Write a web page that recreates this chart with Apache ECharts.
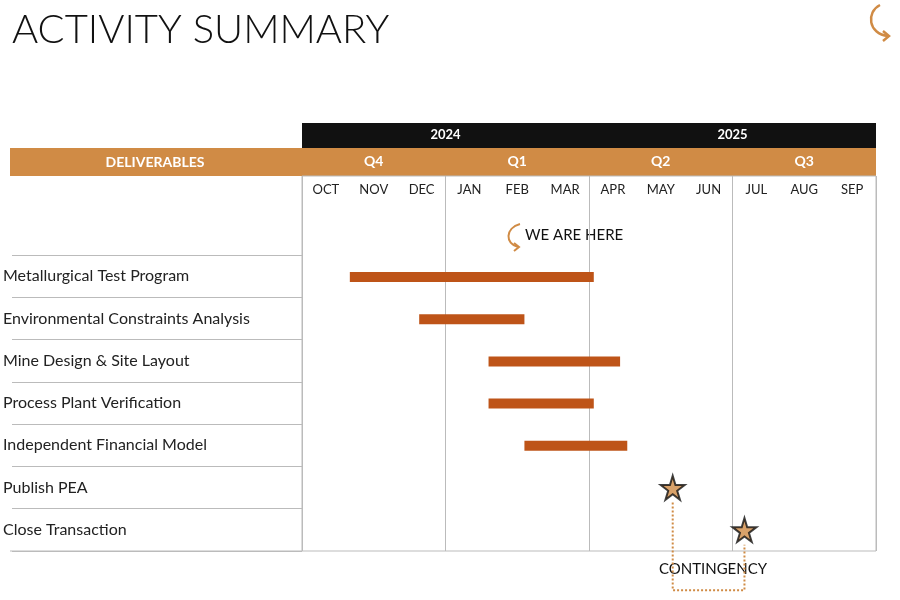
<!DOCTYPE html>
<html><head><meta charset="utf-8">
<script src="https://cdn.jsdelivr.net/npm/echarts@6/dist/echarts.min.js"></script>
<style>html,body{margin:0;background:#fff}#c{width:900px;height:600px}</style></head>
<body><div id="c"></div>
<script>
const tasks = ['Metallurgical Test Program','Environmental Constraints Analysis','Mine Design & Site Layout','Process Plant Verification','Independent Financial Model','Publish PEA','Close Transaction'];
const months = ['OCT','NOV','DEC','JAN','FEB','MAR','APR','MAY','JUN','JUL','AUG','SEP'];
const quarters = ['Q4','Q1','Q2','Q3'];
const years = ['2024','2025'];
// bars: [taskIndex, startMonth, endMonth] (0 = start of Oct 2024)
const bars = [[0,1.0,6.1],[1,2.45,4.65],[2,3.9,6.65],[3,3.9,6.1],[4,4.65,6.8]];
// milestones: [month, taskIndex]
const milestones = [[7.75,5],[9.25,6]];
const contingency = [[7.75,5.85],[7.75,7.93],[9.25,7.93],[9.25,6.85]];
const ORANGE='#D08B45', BAR='#BE5418';
const star='path://M50,0 L61,35 L98,35 L68,57 L79,91 L50,70 L21,91 L32,57 L2,35 L39,35 Z';
const chart = echarts.init(document.getElementById('c'));
const F='Lato';
chart.setOption({
  animation:false,
  textStyle:{fontFamily:F},
  graphic:[
    {type:'text',x:12,y:10,style:{text:'ACTIVITY SUMMARY',font:'300 40px Lato',fill:'#111'}},
    {type:'rect',shape:{x:302,y:123,width:574,height:25},style:{fill:'#111'},z:-1},
    {type:'rect',shape:{x:10,y:148,width:866,height:28},style:{fill:ORANGE},z:-1},
    {type:'text',x:155,y:162,style:{text:'DELIVERABLES',font:'bold 14px Lato',fill:'#fff',align:'center',verticalAlign:'middle'}},
    {type:'line',shape:{x1:10,y1:551,x2:302,y2:551},style:{stroke:'#bbb',lineWidth:1}},
    {type:'text',x:525,y:235,style:{text:'WE ARE HERE',font:'15px Lato',fill:'#111',verticalAlign:'middle'}},
    {type:'bezierCurve',shape:{x1:520,y1:224,cpx1:505,cpy1:228,cpx2:505,cpy2:244,x2:518,y2:247},style:{stroke:ORANGE,lineWidth:2,fill:null}},
    {type:'polyline',shape:{points:[[514,243],[519,247],[514,251]]},style:{stroke:ORANGE,lineWidth:2,fill:null}},
    {type:'bezierCurve',shape:{x1:880,y1:5,cpx1:866,cpy1:12,cpx2:868,cpy2:34,x2:888,y2:36},style:{stroke:ORANGE,lineWidth:2.5,fill:null}},
    {type:'polyline',shape:{points:[[883,31],[889,36],[883,41]]},style:{stroke:ORANGE,lineWidth:2.5,fill:null}},
    {type:'text',x:713,y:569,style:{text:'CONTINGENCY',font:'15px Lato',fill:'#111',align:'center',verticalAlign:'middle'}}
  ],
  grid:[
    {left:302,right:24,top:176,bottom:49,show:true,borderColor:'#bbb',borderWidth:1},
    {left:10,width:292,top:255,bottom:49}
  ],
  xAxis:[
    {gridIndex:0,type:'value',min:0,max:12,interval:3,axisLabel:{show:false},axisLine:{show:false},axisTick:{show:false},splitLine:{lineStyle:{color:'#bbb'}}},
    {gridIndex:0,type:'category',position:'top',data:months,axisLine:{show:false},axisTick:{show:false},axisLabel:{color:'#222',fontSize:13,margin:-20}},
    {gridIndex:0,type:'category',position:'top',data:quarters,axisLine:{show:false},axisTick:{show:false},axisLabel:{color:'#fff',fontSize:14,fontWeight:'bold',margin:8}},
    {gridIndex:0,type:'category',position:'top',offset:28,data:years,axisLine:{show:false},axisTick:{show:false},axisLabel:{color:'#fff',fontSize:13,fontWeight:'bold',margin:7}},
    {gridIndex:1,type:'value',show:false}
  ],
  yAxis:[
    {gridIndex:0,type:'value',min:-1.9,max:7,inverse:true,show:false,splitLine:{show:false}},
    {gridIndex:1,type:'category',data:tasks,inverse:true,axisLine:{show:false},axisTick:{show:false},
     splitLine:{show:true,interval:0,lineStyle:{color:'#bbb'}},
     axisLabel:{inside:true,color:'#222',fontSize:16,margin:-9,fontFamily:F}}
  ],
  series:[
    {type:'custom',xAxisIndex:0,yAxisIndex:0,data:bars,
     renderItem:(p,api)=>{const a=api.coord([api.value(1),api.value(0)+0.5]);const b=api.coord([api.value(2),api.value(0)+0.5]);
       return {type:'rect',shape:{x:a[0],y:a[1]-5,width:b[0]-a[0],height:10},style:{fill:BAR}};}},
    {type:'line',xAxisIndex:0,yAxisIndex:0,data:contingency,symbol:'none',clip:false,lineStyle:{color:ORANGE,type:'dotted',width:2}},
    {type:'scatter',xAxisIndex:0,yAxisIndex:0,data:milestones.map(m=>[m[0],m[1]+0.5]),symbol:star,symbolSize:24,clip:false,
     itemStyle:{color:ORANGE,borderColor:'#111',borderWidth:2},z:5},
    {type:'scatter',xAxisIndex:4,yAxisIndex:1,data:[]}
  ]
});
</script></body></html>
